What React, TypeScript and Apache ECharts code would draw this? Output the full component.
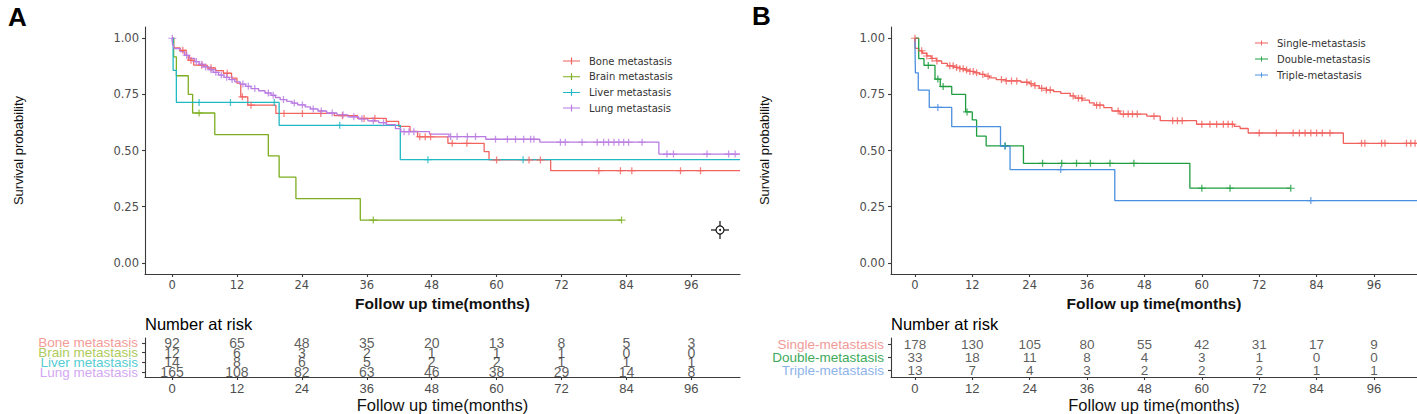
import React, { useEffect, useRef } from 'react';
import * as echarts from 'echarts';

// ---------- shared ----------
const TIME_TICKS = [0, 12, 24, 36, 48, 60, 72, 84, 96];
const SURV_TICKS = [0, 0.25, 0.5, 0.75, 1];
const X_TITLE = 'Follow up time(months)';
const Y_TITLE = 'Survival probability';

// ---------- panel A ----------
const A_NAMES = ['Bone metastasis', 'Brain metastasis', 'Liver metastasis', 'Lung metastasis'];
const A_COLORS = ['#F2635F', '#7CAE1F', '#1FB8C4', '#B97BE2'];
const A_LABEL_COLORS = ['#F29C97', '#AECB5A', '#55CDD3', '#D3A8F0'];

const boneSteps = [[0, 1], [0.3, 0.957], [1.5, 0.946], [2.6, 0.924], [3.0, 0.902], [4.0, 0.88], [6.5, 0.868], [8.0, 0.856], [9.5, 0.844], [11.0, 0.822], [12.0, 0.8], [12.7, 0.739], [14.0, 0.702], [19.2, 0.665], [30.0, 0.655], [34.3, 0.643], [39.6, 0.63], [41.9, 0.607], [44.0, 0.585], [45.4, 0.561], [51.0, 0.532], [57.7, 0.495], [58.6, 0.458], [70.0, 0.41]];
const boneEnd = 105;
const boneCensor = [2.0, 3.5, 5.5, 7.2, 10.2, 13.0, 14.6, 20.7, 24.1, 27.5, 31.5, 35.5, 37.5, 45.8, 46.8, 47.8, 51.8, 54.5, 60.0, 66.0, 68.1, 78.9, 82.9, 85.0, 94.0, 97.7];

const brainSteps = [[0, 1], [0.3, 0.917], [0.8, 0.833], [3.0, 0.75], [3.8, 0.667], [7.9, 0.571], [17.8, 0.476], [19.8, 0.381], [22.9, 0.286], [34.8, 0.19]];
const brainEnd = 83.1;
const brainCensor = [5.0, 37.2, 83.1];

const liverSteps = [[0, 1], [0.2, 0.857], [0.8, 0.714], [19.8, 0.612], [42.2, 0.459]];
const liverEnd = 105;
const liverCensor = [5.0, 10.8, 18.9, 31.0, 47.3, 64.9];

const lungSteps = [[0, 1], [0.1, 0.97], [0.3, 0.954], [1.5, 0.94], [2.3, 0.924], [3.2, 0.91], [4.2, 0.896], [5.0, 0.884], [5.8, 0.872], [6.8, 0.86], [7.6, 0.848], [8.6, 0.836], [9.6, 0.826], [10.6, 0.816], [11.6, 0.806], [12.6, 0.796], [13.6, 0.786], [14.6, 0.776], [16.0, 0.766], [17.2, 0.756], [18.3, 0.746], [19.1, 0.736], [20.0, 0.727], [21.2, 0.719], [22.2, 0.711], [23.2, 0.703], [24.6, 0.694], [25.6, 0.685], [27.0, 0.676], [28.6, 0.667], [30.5, 0.659], [32.5, 0.65], [34.5, 0.641], [36.2, 0.632], [38.2, 0.624], [39.6, 0.615], [41.3, 0.597], [42.3, 0.584], [47.6, 0.573], [51.2, 0.562], [58.0, 0.55], [68.0, 0.537], [90.0, 0.484]];
const lungEnd = 105;
const lungCensor = [0.05, 2.7, 4.5, 5.5, 6.2, 7.2, 8.1, 9.1, 10.1, 11.1, 13.1, 14.1, 15.3, 17.8, 18.7, 20.6, 22.6, 24.1, 26.1, 27.6, 29.6, 31.6, 33.6, 35.1, 37.2, 39.1, 42.9, 43.8, 44.7, 51.5, 52.7, 54.6, 56.1, 59.8, 62.0, 63.5, 65.0, 66.3, 66.9, 71.8, 72.7, 75.8, 78.6, 79.8, 80.7, 81.7, 82.6, 83.5, 84.4, 86.9, 91.5, 92.7, 98.9, 102.9, 104.1];

const boneRisk = [92, 65, 48, 35, 20, 13, 8, 5, 3];
const brainRisk = [12, 6, 3, 2, 1, 1, 1, 0, 0];
const liverRisk = [14, 8, 6, 5, 2, 2, 1, 1, 1];
const lungRisk = [165, 108, 82, 63, 46, 38, 29, 14, 8];

// ---------- panel B ----------
const B_NAMES = ['Single-metastasis', 'Double-metastasis', 'Triple-metastasis'];
const B_COLORS = ['#F0605D', '#1E9E40', '#4A8FE0'];
const B_LABEL_COLORS = ['#F09A97', '#3DAA5A', '#8DB4EA'];

const singleSteps = [[0, 1], [0.05, 0.955], [0.8, 0.944], [1.6, 0.933], [2.5, 0.921], [3.4, 0.91], [4.5, 0.899], [5.6, 0.888], [6.8, 0.877], [8.2, 0.87], [9.4, 0.864], [10.5, 0.858], [11.5, 0.852], [12.5, 0.846], [13.5, 0.839], [14.6, 0.831], [15.6, 0.823], [17.0, 0.816], [19.0, 0.81], [22.2, 0.804], [24.0, 0.797], [25.0, 0.789], [26.0, 0.777], [27.5, 0.769], [29.0, 0.762], [30.5, 0.754], [32.5, 0.743], [33.5, 0.733], [35.0, 0.724], [36.5, 0.712], [37.5, 0.702], [39.5, 0.691], [41.2, 0.676], [42.9, 0.662], [48.5, 0.653], [51.3, 0.633], [58.9, 0.617], [66.8, 0.607], [68.0, 0.598], [69.7, 0.578], [89.6, 0.532]];
const singleEnd = 105;
const singleCensor = [0.0, 1.4, 2.5, 3.6, 4.6, 7.3, 8.0, 8.7, 9.4, 10.1, 10.8, 11.5, 12.2, 12.9, 14.2, 15.3, 18.1, 19.1, 20.2, 21.3, 23.4, 24.3, 25.1, 26.5, 27.5, 28.3, 33.1, 34.2, 34.9, 38.0, 38.7, 42.5, 43.6, 44.6, 45.5, 46.5, 50.0, 53.9, 54.9, 55.9, 60.0, 61.7, 63.1, 64.5, 65.5, 66.4, 72.0, 75.6, 79.1, 80.4, 81.6, 82.8, 84.0, 85.2, 86.8, 93.4, 94.1, 97.6, 98.3, 102.8, 103.7, 104.6];

const doubleSteps = [[0, 1], [0.8, 0.909], [1.9, 0.879], [4.2, 0.818], [5.3, 0.785], [7.7, 0.75], [10.6, 0.672], [12.0, 0.636], [12.9, 0.564], [14.9, 0.521], [22.7, 0.443], [57.5, 0.332]];
const doubleEnd = 78.6;
const doubleCensor = [2.8, 4.8, 5.9, 10.9, 18.9, 26.7, 30.7, 33.8, 36.7, 40.8, 45.8, 60.0, 65.9, 78.6];

const tripleSteps = [[0, 1], [0.1, 0.846], [0.7, 0.769], [3.0, 0.692], [7.7, 0.606], [17.9, 0.519], [19.9, 0.415], [41.8, 0.277]];
const tripleEnd = 105;
const tripleCensor = [4.8, 18.8, 30.5, 82.8];

const singleRisk = [178, 130, 105, 80, 55, 42, 31, 17, 9];
const doubleRisk = [33, 18, 11, 8, 4, 3, 1, 0, 0];
const tripleRisk = [13, 7, 4, 3, 2, 2, 2, 1, 1];

// ---------- helpers ----------
const PLUS = 'path://M4.2,0H5.8V10H4.2Z M0,4.2H10V5.8H0Z';
const LEG_ICON = 'path://M0,3.4H20V4.6H0Z M9.3,0H10.7V8H9.3Z';
const SANS = 'Liberation Sans, Arial, sans-serif';
const DEJAVU = 'DejaVu Sans, sans-serif';

function stepAt(steps: number[][], t: number) {
  let s = steps[0][1];
  for (const [x, y] of steps) {
    if (x <= t) s = y;
    else break;
  }
  return s;
}

function kmSeries(name: string, color: string, steps: number[][], end: number, censor: number[], idx: number) {
  const line = {
    type: 'line', name, xAxisIndex: idx, yAxisIndex: idx, step: 'end', showSymbol: false,
    data: [...steps, [end, steps[steps.length - 1][1]]],
    lineStyle: { color, width: 1.3 }, itemStyle: { color }, z: 2, silent: true,
  };
  const marks = {
    type: 'scatter', name: name + ' censored', xAxisIndex: idx, yAxisIndex: idx,
    symbol: PLUS, symbolSize: [8, 7], itemStyle: { color }, z: 3, silent: true,
    data: censor.map((t) => [t, stepAt(steps, t)]),
  };
  return [line, marks];
}

function riskSeries(rows: number[][], idx: number, fontSize: number) {
  const data: any[] = [];
  rows.forEach((r, ri) => r.forEach((v, ti) => data.push([TIME_TICKS[ti], ri, v])));
  return {
    type: 'scatter', xAxisIndex: idx, yAxisIndex: idx, symbolSize: 1, silent: true,
    itemStyle: { color: 'transparent' },
    label: {
      show: true, position: 'inside', formatter: (p: any) => String(p.data[2]),
      color: '#333', fontSize, fontFamily: SANS,
    },
    data,
  };
}

const axisLineStyle = { color: '#3a3a3a', width: 1.1 };

function plotX(gridIndex: number) {
  return {
    type: 'value', gridIndex, min: -5, max: 105,
    axisLine: { show: true, onZero: false, lineStyle: axisLineStyle },
    axisTick: { show: true, length: 3, customValues: TIME_TICKS, lineStyle: axisLineStyle },
    axisLabel: { customValues: TIME_TICKS, margin: 5, fontSize: 11.5, color: '#4d4d4d', fontFamily: DEJAVU },
    splitLine: { show: false },
    name: X_TITLE, nameLocation: 'middle', nameGap: 16,
    nameTextStyle: { fontWeight: 'bold', fontSize: 15.5, color: '#111', fontFamily: SANS },
  };
}
function plotY(gridIndex: number) {
  return {
    type: 'value', gridIndex, min: -0.05, max: 1.05,
    axisLine: { show: true, onZero: false, lineStyle: axisLineStyle },
    axisTick: { show: true, length: 3, customValues: SURV_TICKS, lineStyle: axisLineStyle },
    axisLabel: {
      customValues: SURV_TICKS, margin: 6, fontSize: 11.5, color: '#4d4d4d', fontFamily: DEJAVU,
      formatter: (v: number) => v.toFixed(2),
    },
    splitLine: { show: false },
    name: Y_TITLE, nameLocation: 'middle', nameGap: 120,
    nameTextStyle: { fontSize: 13, color: '#111', fontFamily: SANS },
  };
}
function tableX(gridIndex: number) {
  return {
    type: 'value', gridIndex, min: -5, max: 105,
    axisLine: { show: true, onZero: false, lineStyle: axisLineStyle },
    axisTick: { show: true, length: 3, customValues: TIME_TICKS, lineStyle: axisLineStyle },
    axisLabel: { customValues: TIME_TICKS, margin: 5, fontSize: 13, color: '#4d4d4d', fontFamily: SANS },
    splitLine: { show: false },
    name: X_TITLE, nameLocation: 'middle', nameGap: 19,
    nameTextStyle: { fontSize: 16.5, color: '#111', fontFamily: SANS },
  };
}
function tableY(gridIndex: number, names: string[], colors: string[], fontSize: number) {
  const rich: any = {};
  colors.forEach((c, i) => (rich['c' + i] = { color: c, fontSize, fontFamily: SANS, lineHeight: 10 }));
  return {
    type: 'category', gridIndex, data: names, inverse: true,
    axisLine: { show: true, onZero: false, lineStyle: axisLineStyle },
    axisTick: { show: true, length: 3, alignWithLabel: true, lineStyle: axisLineStyle },
    axisLabel: { interval: 0, margin: 7, formatter: (v: string, i: number) => `{c${i}|${v}}`, rich },
    splitLine: { show: false },
  };
}
function legend(names: string[], left: number, top: number, itemWidth: number, gap: number) {
  return {
    orient: 'vertical', left, top, padding: 0, itemWidth, itemHeight: 8, itemGap: gap,
    selectedMode: false,
    data: names.map((n) => ({ name: n, icon: LEG_ICON })),
    textStyle: { fontFamily: DEJAVU, fontSize: 10, color: '#333', lineHeight: 12, padding: [0, 0, 0, 4] },
  };
}

export default function App() {
  const ref = useRef<HTMLDivElement>(null);
  useEffect(() => {
    if (!ref.current) return;
    const chart = echarts.init(ref.current, undefined, { renderer: 'svg' });
    const series: any[] = [
      ...kmSeries(A_NAMES[0], A_COLORS[0], boneSteps, boneEnd, boneCensor, 0),
      ...kmSeries(A_NAMES[1], A_COLORS[1], brainSteps, brainEnd, brainCensor, 0),
      ...kmSeries(A_NAMES[2], A_COLORS[2], liverSteps, liverEnd, liverCensor, 0),
      ...kmSeries(A_NAMES[3], A_COLORS[3], lungSteps, lungEnd, lungCensor, 0),
      ...kmSeries(B_NAMES[0], B_COLORS[0], singleSteps, singleEnd, singleCensor, 1),
      ...kmSeries(B_NAMES[1], B_COLORS[1], doubleSteps, doubleEnd, doubleCensor, 1),
      ...kmSeries(B_NAMES[2], B_COLORS[2], tripleSteps, tripleEnd, tripleCensor, 1),
      riskSeries([boneRisk, brainRisk, liverRisk, lungRisk], 2, 14),
      riskSeries([singleRisk, doubleRisk, tripleRisk], 3, 13.5),
    ];
    const ink = { stroke: '#111', lineWidth: 1.2 };
    chart.setOption({
      animation: false,
      textStyle: { fontFamily: SANS },
      grid: [
        { left: 145, top: 27, width: 595, height: 247 },
        { left: 891, top: 27, width: 526, height: 247 },
        { left: 145, top: 338, width: 595, height: 40 },
        { left: 891, top: 338, width: 526, height: 40 },
      ],
      xAxis: [plotX(0), plotX(1), tableX(2), tableX(3)],
      yAxis: [
        plotY(0), plotY(1),
        tableY(2, A_NAMES, A_LABEL_COLORS, 13.5),
        tableY(3, B_NAMES, B_LABEL_COLORS, 13.5),
      ],
      legend: [legend(A_NAMES, 563, 55, 17, 3.7), legend(B_NAMES, 1255, 37, 13, 4)],
      series,
      graphic: [
        { type: 'text', x: 8, y: 4, style: { text: 'A', font: 'bold 26px Liberation Sans', fill: '#000' } },
        { type: 'text', x: 752, y: 3, style: { text: 'B', font: 'bold 26px Liberation Sans', fill: '#000' } },
        { type: 'text', x: 145, y: 324, style: { text: 'Number at risk', font: '16.5px Liberation Sans', fill: '#000', verticalAlign: 'middle' } },
        { type: 'text', x: 891, y: 324, style: { text: 'Number at risk', font: '16.5px Liberation Sans', fill: '#000', verticalAlign: 'middle' } },
        { type: 'circle', shape: { cx: 720, cy: 230, r: 4 }, style: { fill: 'none', ...ink } },
        { type: 'circle', shape: { cx: 720, cy: 230, r: 1 }, style: { fill: '#111' } },
        { type: 'line', shape: { x1: 720, y1: 221, x2: 720, y2: 226 }, style: ink },
        { type: 'line', shape: { x1: 720, y1: 234, x2: 720, y2: 239 }, style: ink },
        { type: 'line', shape: { x1: 711, y1: 230, x2: 716, y2: 230 }, style: ink },
        { type: 'line', shape: { x1: 724, y1: 230, x2: 729, y2: 230 }, style: ink },
      ],
    });
    return () => chart.dispose();
  }, []);
  return (
    <div
      ref={ref}
      style={{ position: 'absolute', left: 0, top: 0, width: 1417, height: 414, background: '#fff' }}
    />
  );
}
